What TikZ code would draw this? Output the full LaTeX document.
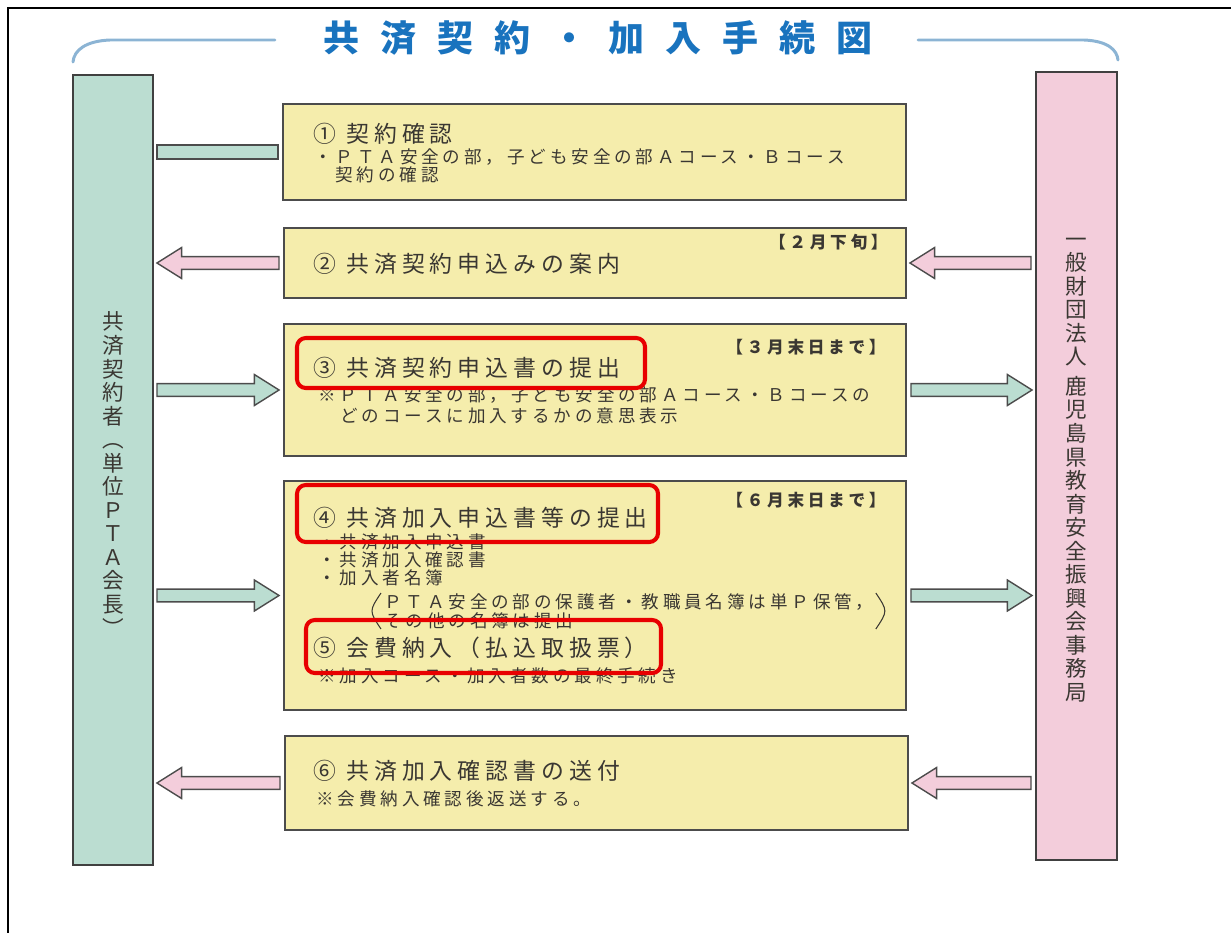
\documentclass[tikz,border=0pt]{standalone}
\usepackage{fontspec}
\usetikzlibrary{positioning,calc,fit}

\newfontfamily\jp{Noto Sans CJK JP}
\newfontfamily\jpsp[LetterSpace=22]{Noto Sans CJK JP}
\newfontfamily\jptitle[LetterSpace=58]{Noto Sans CJK JP}

\definecolor{boxyellow}{RGB}{245,237,172}
\definecolor{mint}{RGB}{187,221,209}
\definecolor{rose}{RGB}{243,205,219}
\definecolor{titleblue}{RGB}{25,115,190}
\definecolor{curveblue}{RGB}{140,180,212}
\definecolor{textgray}{RGB}{58,55,50}
\definecolor{markred}{RGB}{232,0,0}

% block arrow between two points on one row
\newcommand{\fatarrow}[3]{%
  \draw[arrowline, fill=#1] let \p1=#2, \p2=#3, \n1={sign(\x2-\x1)} in
    (\x1,\y1+3.6pt) -- (\x2-\n1*14pt,\y1+3.6pt) -- (\x2-\n1*14pt,\y1+8.8pt)
    -- (\x2,\y1) -- (\x2-\n1*14pt,\y1-8.8pt) -- (\x2-\n1*14pt,\y1-3.6pt)
    -- (\x1,\y1-3.6pt) -- cycle;}

\begin{document}
\begin{tikzpicture}[x=0.02cm, y=-0.02cm,
    stepbox/.style={draw=black!70, line width=1.1pt, fill=boxyellow, inner sep=0pt},
    column/.style={draw=black!75, line width=1.1pt, inner sep=0pt},
    heading/.style={anchor=west, inner sep=0pt, text=textgray,
      font=\jpsp\fontsize{13}{15}\selectfont},
    note/.style={anchor=west, inner sep=0pt, text=textgray,
      font=\jpsp\fontsize{10}{10.8}\selectfont},
    period/.style={anchor=east, inner sep=0pt, text=textgray,
      font=\jpsp\bfseries\fontsize{9.5}{12}\selectfont},
    vtext/.style={align=center, inner sep=0pt, text=textgray,
      font=\jp\fontsize{12.3}{13.4}\selectfont},
    paren/.style={draw=textgray, line width=0.6pt},
    redframe/.style={draw=markred, line width=2.3pt, rounded corners=5pt, inner sep=0pt},
    arrowline/.style={draw=black!70, line width=0.8pt, line join=miter}]

    \useasboundingbox (0,0) rectangle (1231,933);

    % page frame
    \draw[line width=1.7pt] (7,8) -- (1231,8);
    \draw[line width=1.7pt] (8,7) -- (8,933);

    % Title
    \node[text=titleblue, font=\jptitle\bfseries\fontsize{20.5}{24}\selectfont, inner sep=0pt]
      (title) at (598,38) {共済契約・加入手続図};
    \draw[curveblue, line width=1.7pt, line cap=round]
      (275,40) -- (110,40) .. controls (86,41) and (74,50) .. (73,62);
    \draw[curveblue, line width=1.7pt, line cap=round]
      (918,40) -- (1084,40) .. controls (1108,41) and (1117,50) .. (1118,60);

    % Parties
    \node[column, fill=mint, fit={(73,75) (153,865)}] (pta) {};
    \node[vtext] (ptaname) at (113,474)
      {共\\済\\契\\約\\者\\︵\\単\\位\\Ｐ\\Ｔ\\Ａ\\会\\長\\︶};
    \node[column, fill=rose, fit={(1036,72) (1117,860)}] (org) {};
    \node[vtext] (orgname) at (1076,470)
      {一\\般\\財\\団\\法\\人\\[3.4pt]鹿\\児\\島\\県\\教\\育\\安\\全\\振\\興\\会\\事\\務\\局};

    % Steps
    \node[stepbox, fit={(283,104) (906,200)}] (b1) {};
    \node[stepbox, fit={(284,228) (906,298)}] (b2) {};
    \node[stepbox, fit={(284,324) (906,456)}] (b3) {};
    \node[stepbox, fit={(284,481) (906,710)}] (b4) {};
    \node[stepbox, fit={(285,736) (908,830)}] (b6) {};

    \node[heading] (h1) at (313,134) {① 契約確認};
    \node[note] (n1a) at (314,157) {・ＰＴＡ安全の部，子ども安全の部Ａコース・Ｂコース};
    \node[note] (n1b) at (335,175) {契約の確認};

    \node[period] (p2) at (888,242) {【２月下旬】};
    \node[heading] (h2) at (313,264) {② 共済契約申込みの案内};

    \node[period] (p3) at (886,347) {【３月末日まで】};
    \node[heading] (h3) at (313,368) {③ 共済契約申込書の提出};
    \node[note] (n3a) at (318,395) {※ＰＴＡ安全の部，子ども安全の部Ａコース・Ｂコースの};
    \node[note] (n3b) at (340,416) {どのコースに加入するかの意思表示};

    \node[period] (p4) at (886,500) {【６月末日まで】};
    \node[heading] (h4) at (313,518) {④ 共済加入申込書等の提出};
    \node[note] (n4a) at (318,542) {・共済加入申込書};
    \node[note] (n4b) at (318,560) {・共済加入確認書};
    \node[note] (n4c) at (318,578) {・加入者名簿};
    \node[note, align=left] (n4d) at (384,611)
      {ＰＴＡ安全の部の保護者・教職員名簿は単Ｐ保管，\\その他の名簿は提出};
    \draw[paren] ($(n4d.north west)+(-3,0)$) .. controls ($(n4d.west)+(-15,0)$)
      .. ($(n4d.south west)+(-3,0)$);
    \draw[paren] ($(n4d.north east)+(2,0)$) .. controls ($(n4d.east)+(14,0)$)
      .. ($(n4d.south east)+(2,0)$);
    \node[heading] (h5) at (313,648) {⑤ 会費納入（払込取扱票）};
    \node[note] (n5a) at (318,676) {※加入コース・加入者数の最終手続き};

    \node[heading] (h6) at (313,771) {⑥ 共済加入確認書の送付};
    \node[note] (n6a) at (316,799) {※会費納入確認後返送する。};

    % Arrows
    \draw[arrowline, fill=mint] ($(pta.east |- b1.west)+(3,-7)$) rectangle ($(b1.west)+(-4,7)$);
    \foreach \b in {b2, b6} {
        \fatarrow{rose}{($(\b.west)+(-4,0)$)}{($(pta.east |- \b.west)+(3,0)$)}
        \fatarrow{rose}{($(org.west |- \b.east)+(-4,0)$)}{($(\b.east)+(3,0)$)}
    }
    \foreach \b in {b3, b4} {
        \fatarrow{mint}{($(pta.east |- \b.west)+(3,0)$)}{($(\b.west)+(-4,0)$)}
        \fatarrow{mint}{($(\b.east)+(4,0)$)}{($(org.west |- \b.east)+(-3,0)$)}
    }

    % Highlights
    \node[redframe, fit={(297,338) (645,388)}] (m3) {};
    \node[redframe, fit={(297,485) (658,542)}] (m4) {};
    \node[redframe, fit={(306,620) (661,673)}] (m5) {};

\end{tikzpicture}
\end{document}
